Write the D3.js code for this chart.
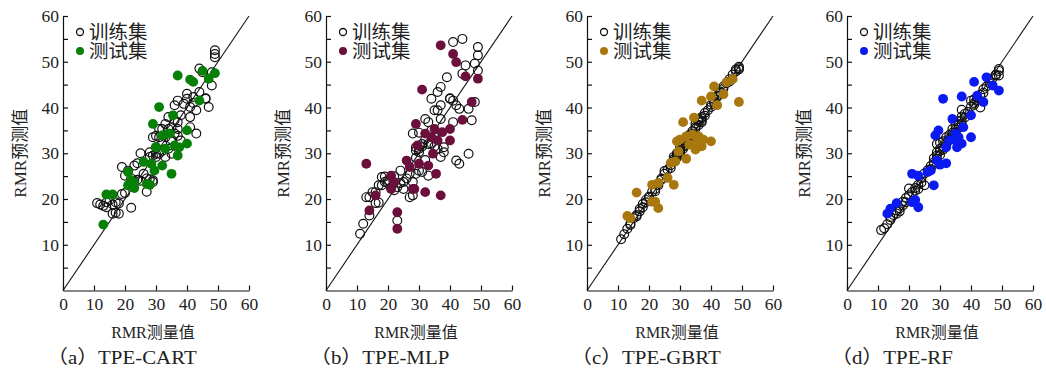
<!DOCTYPE html>
<html lang="zh">
  <head>
    <meta charset="utf-8" />
    <title>RMR 预测值与测量值</title>
    <script src="https://cdnjs.cloudflare.com/ajax/libs/d3/7.8.5/d3.min.js"></script>
    <style>
      body {
        margin: 0;
        background: #ffffff;
      }
      svg text {
        fill: #222;
      }
      .num {
        font-family: "Liberation Serif", "Times New Roman", serif;
      }
      .cjk {
        font-family: "Liberation Serif", "Noto Sans CJK SC", serif;
      }
    </style>
  </head>
  <body>
    <div id="chart"></div>
    <script>
      // measured values, shared by all four models
      const trainX = [
        11, 12, 13, 14, 14, 15, 16, 16, 17, 17, 18, 18, 19, 19, 20, 20, 21, 22,
        22, 23, 23, 24, 24, 25, 25, 26, 27, 27, 28, 28, 28, 29, 29, 29, 29, 30,
        30, 30, 30, 31, 31, 31, 32, 32, 32, 33, 33, 33, 34, 34, 34, 35, 35, 35,
        36, 36, 36, 37, 37, 37, 37, 38, 38, 39, 40, 40, 41, 41, 41, 42, 42, 43,
        43, 44, 44, 45, 46, 46, 47, 48, 48, 49, 49, 49,
      ];
      const testX = [
        13, 14, 16, 21, 21, 22, 23, 23, 26, 27, 28, 28.5, 29, 29.5, 30, 31, 32,
        32, 33, 34, 34.5, 35, 35.5, 36, 37, 37, 37.5, 40, 40, 41, 42, 44, 45, 47,
        49,
      ];

      // predicted values, training set
      const cartTrain = [
        19.1, 18.8, 18.5, 18.2, 19.3, 19.8, 16.8, 18.8, 19.3, 17.0, 16.8, 19.0,
        27.0, 21.1, 25.1, 21.3, 26.2, 18.1, 24.5, 27.3, 24.0, 27.8, 24.2, 30.0,
        24.0, 25.5, 21.6, 24.5, 29.2, 30.2, 24.3, 33.5, 24.1, 23.7, 29.5, 29.9,
        29.2, 31.3, 33.8, 33.5, 29.9, 35.3, 35.3, 30.5, 32.1, 29.2, 36.4, 33.5,
        37.9, 31.0, 35.3, 29.9, 35.7, 33.0, 40.5, 37.2, 34.3, 41.5, 35.3, 36.8,
        33.8, 32.8, 38.3, 40.8, 43.0, 41.9, 37.9, 40.1, 35.7, 42.3, 41.0, 39.4,
        34.3, 43.4, 48.5, 47.7, 41.9, 42.0, 40.1, 44.8, 47.7, 52.5, 51.7, 51.0,
      ];
      const mlpTrain = [
        12.4, 14.6, 20.4, 16.4, 20.4, 21.5, 21.5, 19.1, 23.0, 19.2, 24.8, 23.0,
        23.7, 24.9, 24.1, 23.5, 22.5, 21.9, 25.0, 22.6, 15.3, 26.2, 23.5, 23.7,
        22.2, 24.5, 25.5, 20.4, 23.7, 34.3, 20.8, 30.6, 31.3, 25.5, 29.0, 30.2,
        26.2, 31.0, 34.5, 25.9, 32.0, 31.5, 37.5, 28.5, 33.0, 25.1, 36.8, 32.0,
        32.1, 41.9, 35.0, 39.4, 33.5, 31.5, 39.4, 43.4, 31.0, 44.5, 40.5, 37.5,
        29.2, 31.3, 30.2, 46.6, 41.9, 42.0, 41.5, 54.3, 36.8, 28.4, 40.5, 39.7,
        27.7, 55.0, 47.4, 49.2, 39.7, 29.9, 37.2, 49.6, 41.2, 53.2, 51.4, 48.1,
      ];
      const gbrtTrain = [
        11.2, 12.3, 13.5, 14.3, 14.6, 15.8, 16.2, 16.5, 17.3, 17.8, 18.2, 18.9,
        19.3, 19.8, 20.3, 20.5, 21.6, 22.2, 21.7, 23.4, 23.0, 24.5, 24.2, 25.5,
        26.1, 26.4, 26.8, 27.4, 28.3, 28.7, 29.2, 29.4, 29.7, 29.1, 30.0, 30.2,
        29.8, 30.6, 31.2, 31.4, 31.0, 32.1, 32.3, 32.9, 31.8, 33.4, 33.1, 34.0,
        34.3, 34.8, 33.9, 35.4, 35.8, 36.5, 36.2, 36.9, 37.3, 37.1, 37.6, 37.9,
        36.8, 38.2, 38.8, 39.4, 40.1, 40.6, 41.3, 41.0, 41.8, 42.3, 42.6, 43.2,
        43.5, 44.1, 44.6, 45.3, 46.2, 45.7, 47.2, 47.9, 48.3, 48.6, 48.9, 48.3,
      ];
      const rfTrain = [
        13.2, 13.6, 14.5, 15.4, 16.0, 16.5, 16.8, 17.5, 17.3, 18.0, 18.6, 19.4,
        19.3, 20.2, 22.3, 20.8, 21.5, 22.4, 21.8, 22.2, 23.1, 23.6, 24.5, 23.0,
        25.6, 26.3, 27.2, 26.5, 28.0, 28.9, 27.6, 32.0, 29.5, 30.2, 28.8, 30.5,
        32.3, 31.0, 29.6, 31.5, 30.8, 32.6, 32.4, 33.5, 31.6, 33.2, 34.0, 32.9,
        34.5, 35.3, 33.8, 35.2, 36.2, 34.6, 36.1, 37.0, 35.6, 39.5, 38.0, 37.2,
        36.5, 37.8, 38.6, 39.0, 41.5, 40.2, 41.0, 40.6, 41.8, 41.6, 42.2, 40.0,
        42.8, 44.0, 43.2, 44.6, 45.3, 45.8, 46.4, 47.2, 47.0, 48.0, 47.0, 48.4,
      ];

      // predicted values, test set
      const cartTest = [
        14.4, 21.0, 21.0, 25.9, 23.0, 24.1, 22.4, 23.5, 28.1, 23.3, 23.1, 27.7,
        36.4, 26.2, 31.3, 40.1, 27.3, 33.9, 31.0, 34.3, 34.3, 25.5, 38.3, 31.7,
        47.0, 29.5, 31.3, 35.0, 32.1, 46.1, 45.6, 41.5, 48.0, 46.3, 47.5,
      ];
      const mlpTest = [
        27.7, 17.5, 20.8, 25.1, 22.2, 23.7, 17.1, 13.5, 28.4, 27.0, 22.2, 22.2,
        36.4, 31.7, 27.7, 43.9, 21.5, 34.3, 27.3, 33.5, 29.9, 35.3, 25.5, 32.8,
        53.6, 20.8, 34.6, 35.3, 32.8, 51.7, 49.9, 37.3, 46.8, 41.2, 46.3,
      ];
      const gbrtTest = [
        16.3, 15.8, 21.4, 23.1, 19.4, 19.4, 18.0, 23.5, 24.6, 27.9, 23.1, 28.2,
        32.6, 30.4, 33.0, 36.8, 28.8, 33.7, 31.9, 34.1, 37.8, 30.8, 32.5, 33.7,
        41.5, 31.5, 33.0, 42.4, 32.6, 44.6, 40.5, 42.9, 45.5, 46.2, 41.2,
      ];
      const rfTest = [
        16.8, 17.9, 19.1, 25.5, 19.3, 19.8, 18.2, 25.1, 25.9, 26.2, 23.0, 33.9,
        28.4, 35.0, 27.5, 41.9, 27.8, 31.3, 32.8, 37.5, 33.0, 34.3, 31.3, 33.5,
        42.4, 32.1, 35.7, 38.3, 33.5, 45.6, 42.6, 41.2, 46.6, 44.8, 43.7,
      ];

      const panelNames = ["（a）TPE-CART", "（b）TPE-MLP", "（c）TPE-GBRT", "（d）TPE-RF"];
      const testColors = ["#068006", "#6b0f3c", "#a8780f", "#0a1af0"];
      const trainSets = [cartTrain, mlpTrain, gbrtTrain, rfTrain];
      const testSets = [cartTest, mlpTest, gbrtTest, rfTest];
      const legendLabels = ["训练集", "测试集"];
      const xTicks = [0, 10, 20, 30, 40, 50, 60];
      const yTicks = [5, 10, 15, 20, 25, 30, 35, 40, 45, 50, 55, 60];

      const width = 1046;
      const height = 373;
      const panelLeft = [63, 326, 587, 847];
      const panelW = 186;
      const plotTop = 16;
      const plotBottom = 290.5;
      const plotH = plotBottom - plotTop;

      const svg = d3
        .select("#chart")
        .append("svg")
        .attr("width", width)
        .attr("height", height);

      panelNames.forEach((name, i) => {
        const x = d3.scaleLinear().domain([0, 60]).range([0, panelW]);
        const y = d3.scaleLinear().domain([0, 60]).range([plotH, 0]);
        const g = svg
          .append("g")
          .attr("transform", `translate(${panelLeft[i]},${plotTop})`);

        // axes, ticks inward
        g.append("g")
          .attr("transform", `translate(0,${plotH})`)
          .call(
            d3.axisBottom(x).tickValues(xTicks).tickSizeInner(-5).tickSizeOuter(0)
          )
          .call((a) => {
            a.select(".domain").attr("stroke", "#111").attr("stroke-width", 1.2);
            a.selectAll(".tick line").attr("stroke", "#111").attr("stroke-width", 1.2);
            a.selectAll("text")
              .attr("class", "num")
              .attr("dy", 0)
              .attr("y", 19)
              .style("font-size", "17.5px")
              .attr("fill", "#222");
          });

        g.append("g")
          .call(
            d3.axisLeft(y).tickValues(yTicks).tickSizeInner(-5).tickSizeOuter(0)
              .tickFormat((d) => (d % 10 === 0 ? d : ""))
          )
          .call((a) => {
            a.select(".domain").attr("stroke", "#111").attr("stroke-width", 1.2);
            a.selectAll(".tick line").attr("stroke", "#111").attr("stroke-width", 1.2);
            a.selectAll("text")
              .attr("class", "num")
              .attr("x", -4)
              .style("font-size", "17.5px")
              .attr("fill", "#222");
          });

        // 1:1 line
        g.append("line")
          .attr("x1", x(0))
          .attr("y1", y(0))
          .attr("x2", x(60))
          .attr("y2", y(60))
          .attr("stroke", "#111")
          .attr("stroke-width", 1.1);

        // training points
        g.append("g")
          .selectAll("circle")
          .data(trainX.map((v, k) => [v, trainSets[i][k]]))
          .join("circle")
          .attr("cx", (d) => x(d[0]))
          .attr("cy", (d) => y(d[1]))
          .attr("r", 4.4)
          .attr("fill", "none")
          .attr("stroke", "#111")
          .attr("stroke-width", 1.2);

        // test points
        g.append("g")
          .selectAll("circle")
          .data(testX.map((v, k) => [v, testSets[i][k]]))
          .join("circle")
          .attr("cx", (d) => x(d[0]))
          .attr("cy", (d) => y(d[1]))
          .attr("r", 4.9)
          .attr("fill", testColors[i]);

        // legend
        const lg = g.append("g").attr("transform", "translate(17,16)");
        lg.append("circle")
          .attr("r", 3.5)
          .attr("fill", "none")
          .attr("stroke", "#111")
          .attr("stroke-width", 1.3);
        lg.append("circle")
          .attr("cy", 19)
          .attr("r", 4)
          .attr("fill", testColors[i]);
        lg.selectAll("text")
          .data(legendLabels)
          .join("text")
          .attr("class", "cjk")
          .attr("x", 9)
          .attr("y", (d, k) => k * 19)
          .attr("dy", "0.36em")
          .style("font-size", "19.5px")
          .text((d) => d);

        // axis titles
        g.append("text")
          .attr("class", "cjk")
          .attr("transform", `translate(-43,${plotH / 2}) rotate(-90)`)
          .attr("text-anchor", "middle")
          .attr("dy", "0.36em")
          .style("font-size", "17px")
          .text("RMR预测值");

        g.append("text")
          .attr("class", "cjk")
          .attr("x", panelW / 2 - 3)
          .attr("y", 332 - plotTop)
          .attr("text-anchor", "middle")
          .attr("dy", "0.36em")
          .style("font-size", "16px")
          .text("RMR测量值");

        // caption, slightly widened like the source
        g.append("text")
          .attr("class", "cjk")
          .attr("transform", `translate(-16,${357 - plotTop}) scale(1.1,1)`)
          .attr("dy", "0.36em")
          .style("font-size", "19px")
          .text(name);
      });
    </script>
  </body>
</html>
